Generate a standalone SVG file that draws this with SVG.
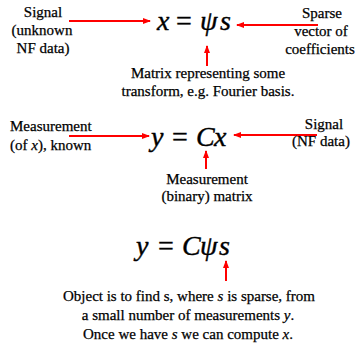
<svg xmlns="http://www.w3.org/2000/svg" width="360" height="347" viewBox="0 0 360 347" font-family="Liberation Serif, serif">
<style>
.t{font-family:'Liberation Serif',serif;font-size:15px;fill:#000;stroke:#000;stroke-width:0.25;}
.m{text-anchor:middle;}
.eq{font-family:'Liberation Serif',serif;font-size:28px;fill:#000;stroke:#000;stroke-width:0.4;}
.i{font-style:italic;}
.n{font-style:normal;}
.a{stroke:#ff0000;stroke-width:2;fill:none;marker-end:url(#ah);}
</style>
<defs>
<marker id="ah" markerWidth="8" markerHeight="6" refX="7" refY="3" orient="auto" markerUnits="userSpaceOnUse">
<path d="M0,0 L8,3 L0,6 Z" fill="#ff0000"/>
</marker>
</defs>
<g id="connectors">
<line class="a" x1="69" y1="21" x2="150" y2="21"/>
<line class="a" x1="318" y1="25" x2="237" y2="25"/>
<line class="a" x1="207" y1="66" x2="207" y2="46"/>
<line class="a" x1="69" y1="136" x2="149" y2="136"/>
<line class="a" x1="317" y1="135" x2="234" y2="135"/>
<line class="a" x1="206" y1="169" x2="206" y2="151"/>
<line class="a" x1="226" y1="281" x2="226" y2="261"/>
</g>
<g id="eq1">
<text class="eq i" x="157" y="30">x</text>
<text class="eq n" x="176" y="30">=</text>
<text class="eq i" x="200" y="30">ψ</text>
<text class="eq i" x="220" y="30">s</text>
</g>
<g id="signal1">
<text class="t m" x="43" y="17">Signal</text>
<text class="t m" x="42" y="35">(unknown</text>
<text class="t m" x="43" y="53">NF data)</text>
</g>
<g id="sparse">
<text class="t m" x="322" y="18">Sparse</text>
<text class="t m" x="321" y="36">vector of</text>
<text class="t m" x="320" y="54">coefficients</text>
</g>
<g id="matrix1">
<text class="t m" x="208" y="78">Matrix representing some</text>
<text class="t m" x="208" y="96">transform, e.g. Fourier basis.</text>
</g>
<g id="eq2">
<text class="eq i" x="151" y="146">y</text>
<text class="eq n" x="172" y="146">=</text>
<text class="eq i" x="196" y="146">C</text>
<text class="eq i" x="214" y="146">x</text>
</g>
<g id="measurement">
<text class="t" x="10" y="131">Measurement</text>
<text class="t" x="10" y="150">(of <tspan class="i">x</tspan>), known</text>
</g>
<g id="signal2">
<text class="t m" x="324" y="129">Signal</text>
<text class="t m" x="321" y="146">(NF data)</text>
</g>
<g id="matrix2">
<text class="t m" x="207" y="184">Measurement</text>
<text class="t m" x="207" y="201">(binary) matrix</text>
</g>
<g id="eq3">
<text class="eq i" x="136" y="255">y</text>
<text class="eq n" x="158" y="255">=</text>
<text class="eq i" x="182" y="255">C</text>
<text class="eq i" x="200" y="255">ψ</text>
<text class="eq i" x="219" y="255">s</text>
</g>
<g id="objective">
<text class="t m" x="189" y="301">Object is to find s, where <tspan class="i">s</tspan> is sparse, from</text>
<text class="t m" x="188" y="320">a small number of measurements <tspan class="i">y</tspan>.</text>
<text class="t m" x="188" y="339">Once we have <tspan class="i">s</tspan> we can compute <tspan class="i">x</tspan>.</text>
</g>
</svg>
